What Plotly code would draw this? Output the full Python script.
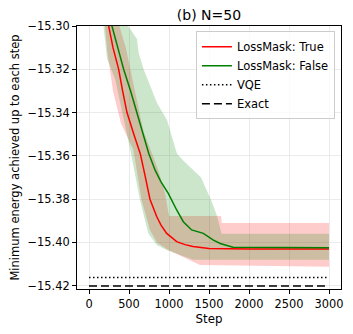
import plotly.graph_objects as go

# LossMask: True (red)
red_step = [150, 246, 300, 371, 420, 475, 560, 641, 700, 762, 846, 900, 971, 1096, 1200, 1300, 1500, 2000, 3000]
red_mean = [-15.285, -15.300, -15.310, -15.320, -15.330, -15.340, -15.350, -15.359, -15.369, -15.380,
            -15.388, -15.392, -15.3958, -15.3996, -15.401, -15.4019, -15.4028, -15.403, -15.403]
red_up_step = [200, 380, 460, 558, 620, 683, 787, 866, 950, 1000, 1650, 1660, 3000]
red_up = [-15.28, -15.300, -15.310, -15.328, -15.338, -15.3488, -15.359, -15.3665, -15.3773, -15.3878,
          -15.3878, -15.391, -15.391]
red_lo_step = [150, 200, 230, 300, 400, 554, 658, 762, 850, 991, 1179, 1387, 3000]
red_lo = [-15.29, -15.300, -15.312, -15.330, -15.345, -15.357, -15.3804, -15.3942, -15.400, -15.4035,
          -15.4066, -15.4104, -15.4112]

# LossMask: False (green)
green_step = [200, 287, 360, 433, 520, 600, 680, 746, 825, 900, 991, 1050, 1096, 1179, 1283, 1429,
              1550, 1640, 1721, 1800, 3000]
green_mean = [-15.29, -15.300, -15.310, -15.320, -15.330, -15.340, -15.350, -15.3588, -15.3665, -15.372,
              -15.3773, -15.382, -15.385, -15.3904, -15.3942, -15.3958, -15.3988, -15.4005, -15.4012,
              -15.4022, -15.4024]
green_up_step = [350, 490, 600, 621, 683, 850, 975, 1100, 1175, 1400, 1533, 1600, 1658, 3000]
green_up = [-15.28, -15.300, -15.306, -15.3125, -15.320, -15.3356, -15.3434, -15.359, -15.362, -15.370,
            -15.381, -15.3878, -15.396, -15.396]
green_lo_step = [150, 225, 330, 433, 520, 637, 741, 846, 970, 1300, 3000]
green_lo = [-15.29, -15.315, -15.325, -15.3434, -15.358, -15.3804, -15.3958, -15.4012, -15.4035,
            -15.408, -15.408]

ref_step = [0, 3000]
vqe = [-15.4162, -15.4162]
exact = [-15.4201, -15.4201]

x_ticks = [0, 500, 1000, 1500, 2000, 2500, 3000]
y_ticks = [-15.42, -15.40, -15.38, -15.36, -15.34, -15.32, -15.30]

font = "DejaVu Sans"

fig = go.Figure()

# shaded bands
fig.add_trace(go.Scatter(
    x=red_up_step + red_lo_step[::-1],
    y=red_up + red_lo[::-1],
    fill="toself", fillcolor="rgba(255,0,0,0.2)",
    line=dict(width=0), mode="lines", showlegend=False, hoverinfo="skip"
))
fig.add_trace(go.Scatter(
    x=green_up_step + green_lo_step[::-1],
    y=green_up + green_lo[::-1],
    fill="toself", fillcolor="rgba(0,128,0,0.2)",
    line=dict(width=0), mode="lines", showlegend=False, hoverinfo="skip"
))

fig.add_trace(go.Scatter(
    x=red_step, y=red_mean, mode="lines",
    line=dict(color="red", width=1.5), name="LossMask: True"
))
fig.add_trace(go.Scatter(
    x=green_step, y=green_mean, mode="lines",
    line=dict(color="green", width=1.5), name="LossMask: False"
))
fig.add_trace(go.Scatter(
    x=ref_step, y=vqe, mode="lines",
    line=dict(color="black", width=1.5, dash="1.5px,2.5px"), name="VQE"
))
fig.add_trace(go.Scatter(
    x=ref_step, y=exact, mode="lines",
    line=dict(color="black", width=1.5, dash="8px,4px"), name="Exact"
))

axis_style = dict(
    showline=True, mirror=True, linecolor="black", linewidth=1,
    ticks="outside", ticklen=4, tickcolor="black",
    showgrid=True, gridcolor="#ebebeb", gridwidth=1, automargin=False,
    zeroline=False, tickfont=dict(size=11.4, color="black", family=font),
)

# page body has an 8px margin, so the figure is a bit smaller than the window
fig.update_layout(
    width=337, height=318,
    margin=dict(l=69, r=4, t=18, b=37),
    paper_bgcolor="white", plot_bgcolor="white",
    font=dict(family=font, size=11.5, color="black"),
    title=dict(text="(b) N=50", x=0.5964, xanchor="center", y=0.978, yanchor="middle",
               font=dict(size=14, family=font, color="black")),
    xaxis=dict(
        title=dict(text="Step", font=dict(size=11.8)),
        range=[-150, 3150], tickvals=x_ticks, **axis_style
    ),
    yaxis=dict(
        title=dict(text="Minimum energy achieved up to each step", font=dict(size=11.5)),
        range=[-15.4215, -15.30], tickvals=y_ticks, tickformat=".2f", **axis_style
    ),
    legend=dict(
        x=0.977, xanchor="right", y=0.98, yanchor="top",
        bgcolor="rgba(255,255,255,0.8)", bordercolor="#cccccc", borderwidth=1,
        font=dict(size=11.5, family=font), tracegroupgap=0, itemwidth=30,
    ),
)

fig.write_html("out.html")
